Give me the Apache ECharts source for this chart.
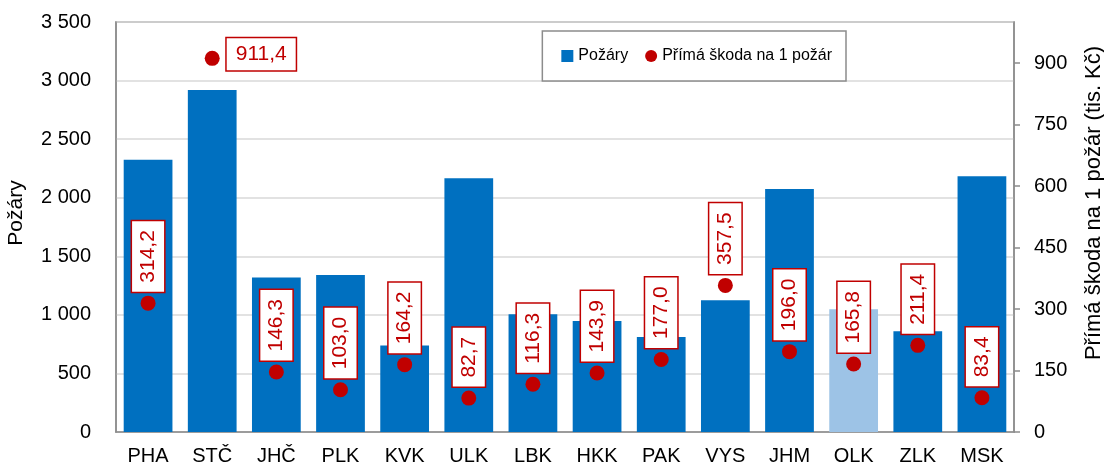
<!DOCTYPE html>
<html>
<head>
<meta charset="utf-8">
<script src="https://cdn.jsdelivr.net/npm/echarts@6/dist/echarts.min.js"></script>
<style>
html,body{margin:0;padding:0;background:#fff;}
#chart{width:1104px;height:464px;}
</style>
</head>
<body>
<div id="chart"></div>
<script>
const categories = ['PHA','STČ','JHČ','PLK','KVK','ULK','LBK','HKK','PAK','VYS','JHM','OLK','ZLK','MSK'];
const pozary = [2325, 2920, 1318, 1340, 738, 2166, 1005, 948, 812, 1125, 2074, 1048, 860, 2183];
const skoda = [314.2, 911.4, 146.3, 103.0, 164.2, 82.7, 116.3, 143.9, 177.0, 357.5, 196.0, 165.8, 211.4, 83.4];
const highlighted = ['OLK'];
const leftTicks = [0, 500, 1000, 1500, 2000, 2500, 3000, 3500];
const rightTicks = [0, 150, 300, 450, 600, 750, 900];

const FONT = "'Liberation Sans', Arial, sans-serif";
const BLUE = '#0070c0';
const LIGHT = '#9dc3e6';
const RED = '#c00000';
const AXIS = '#8c8c8c';

function fmtThousands(v){ return String(v).replace(/\B(?=(\d{3})+(?!\d))/g, '\u00a0'); }
function fmtDec(v){ return v.toFixed(1).replace('.', ','); }

const labelBase = {
  show: true,
  color: RED,
  fontFamily: FONT,
  fontSize: 21,
  lineHeight: 22,
  backgroundColor: '#ffffff',
  borderColor: RED,
  borderWidth: 1.5,
  padding: [5, 9],
  opacity: 1,
  formatter: p => fmtDec(p.value)
};

const barData = pozary.map((v, i) => ({
  value: v,
  itemStyle: { color: highlighted.includes(categories[i]) ? LIGHT : BLUE }
}));

const scatterData = skoda.map((v, i) => {
  const horizontal = categories[i] === 'STČ';
  return {
    value: v,
    label: horizontal
      ? Object.assign({}, labelBase, { position: 'right', distance: 7, rotate: 0, offset: [0, -4] })
      : Object.assign({}, labelBase, { position: 'top', rotate: 90, align: 'left', verticalAlign: 'middle', distance: 4 })
  };
});

const chart = echarts.init(document.getElementById('chart'), null, { renderer: 'canvas' });
chart.setOption({
  animation: false,
  backgroundColor: '#fff',
  textStyle: { fontFamily: FONT },
  grid: {
    left: 116, right: 90, top: 22, bottom: 32,
    outerBoundsMode: 'none',
    containLabel: false,
    show: true, borderColor: AXIS, borderWidth: 1.5, backgroundColor: 'transparent'
  },
  legend: {
    right: 258, top: 31,
    padding: [17, 14, 17, 19],
    borderColor: AXIS, borderWidth: 1.5, backgroundColor: '#fff',
    itemWidth: 12, itemHeight: 12, itemGap: 17,
    textStyle: { fontFamily: FONT, fontSize: 16, color: '#000' },
    data: [
      { name: 'Požáry', icon: 'rect' },
      { name: 'Přímá škoda na 1 požár', icon: 'circle' }
    ]
  },
  xAxis: {
    type: 'category',
    data: categories,
    axisLine: { lineStyle: { color: AXIS, width: 1.5 } },
    axisTick: { show: false },
    axisLabel: { color: '#000', fontSize: 20, fontFamily: FONT, margin: 14 }
  },
  yAxis: [
    {
      type: 'value',
      min: leftTicks[0], max: leftTicks[leftTicks.length - 1], interval: leftTicks[1] - leftTicks[0],
      name: 'Požáry',
      nameLocation: 'middle', nameRotate: 90, nameGap: 89, nameMoveOverlap: false,
      nameTextStyle: { color: '#000', fontSize: 21, fontFamily: FONT, padding: [0, 0, 0, 28] },
      axisLine: { show: true, lineStyle: { color: AXIS, width: 1.5 } },
      axisTick: { show: false },
      axisLabel: { color: '#000', fontSize: 20, fontFamily: FONT, margin: 25, formatter: v => fmtThousands(v) },
      splitLine: { show: true, lineStyle: { color: '#d9d9d9', width: 1.5 } }
    },
    {
      type: 'value',
      position: 'right',
      min: rightTicks[0], max: 1000, interval: rightTicks[1] - rightTicks[0],
      name: 'Přímá škoda na 1 požár (tis. Kč)',
      nameLocation: 'middle', nameRotate: 90, nameGap: 69, nameMoveOverlap: false,
      nameTextStyle: { color: '#000', fontSize: 22, fontFamily: FONT, padding: [0, 0, 0, 48] },
      axisLine: { show: true, lineStyle: { color: AXIS, width: 1.5 } },
      axisTick: { show: true, length: 6, lineStyle: { color: AXIS, width: 1.5 } },
      axisLabel: { color: '#000', fontSize: 20, fontFamily: FONT, margin: 20, showMaxLabel: false,
        formatter: v => rightTicks.includes(v) ? String(v) : '' },
      splitLine: { show: false }
    }
  ],
  series: [
    {
      name: 'Požáry',
      type: 'bar',
      yAxisIndex: 0,
      barWidth: '76%',
      itemStyle: { color: BLUE },
      data: barData,
      z: 2
    },
    {
      name: 'Přímá škoda na 1 požár',
      type: 'scatter',
      yAxisIndex: 1,
      symbol: 'circle',
      symbolSize: 15,
      itemStyle: { color: RED, opacity: 1 },
      emphasis: { disabled: true },
      data: scatterData,
      z: 5
    }
  ]
});
</script>
</body>
</html>
